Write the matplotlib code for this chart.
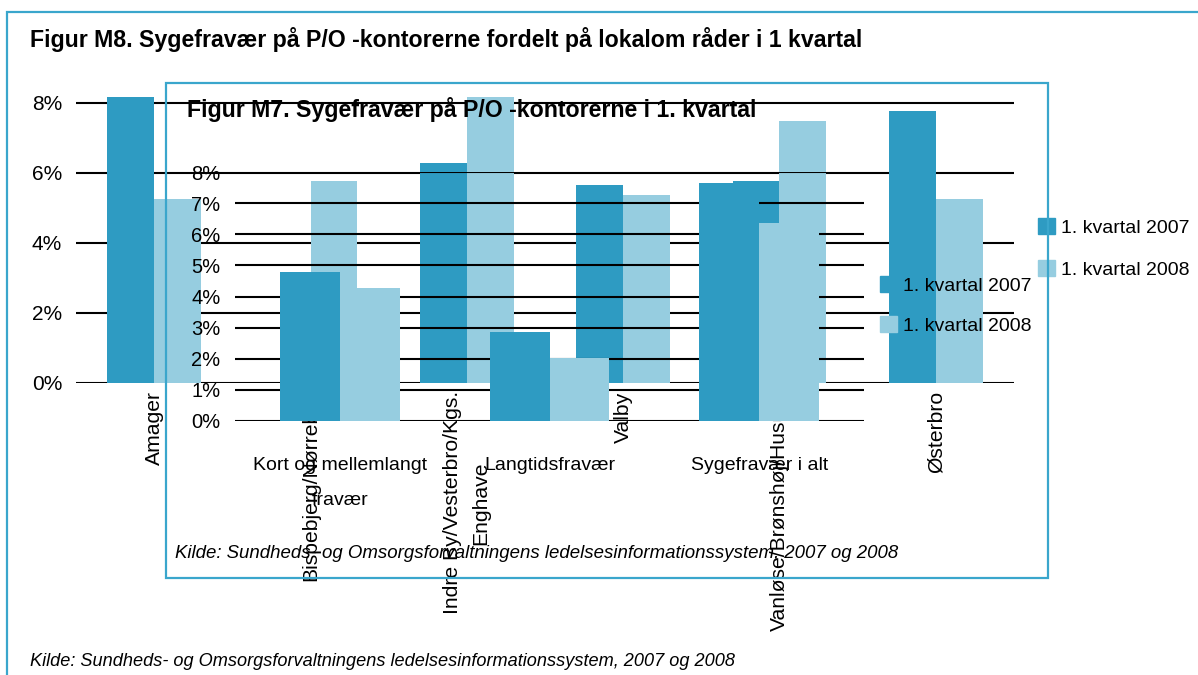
import matplotlib
matplotlib.use("Agg")
import matplotlib.pyplot as plt
import numpy as np
from matplotlib.patches import Rectangle, Patch
from matplotlib.ticker import PercentFormatter

plt.rcParams["font.family"] = ["Liberation Sans", "DejaVu Sans"]

# ---- data: Figur M8 (outer chart, per local area) ----
areas = ["Amager", "Bispebjerg/Nørrebro", "Indre By/Vesterbro/Kgs.\nEnghave",
         "Valby", "Vanløse/Brønshøj/Husum", "Østerbro"]
areas_2007 = [8.18, np.nan, 6.29, 5.66, 5.77, 7.77]
areas_2008 = [5.26, 5.77, 8.17, 5.37, 7.49, 5.26]
outer_ticks = [0, 2, 4, 6, 8]

# ---- data: Figur M7 (inner chart, per absence type) ----
types = ["Kort og mellemlangt\nfravær", "Langtidsfravær", "Sygefravær i alt"]
types_2007 = [4.79, 2.86, 7.65]
types_2008 = [4.28, 2.03, 6.37]
inner_ticks = [0, 1, 2, 3, 4, 5, 6, 7, 8]

series_labels = ["1. kvartal 2007", "1. kvartal 2008"]
outer_title = "Figur M8. Sygefravær på P/O -kontorerne fordelt på lokalom råder i 1 kvartal"
inner_title = "Figur M7. Sygefravær på P/O -kontorerne i 1. kvartal"
source = "Kilde: Sundheds- og Omsorgsforvaltningens ledelsesinformationssystem, 2007 og 2008"

DARK = "#2e9bc2"
LIGHT = "#96cde0"
FRAME = "#3aa6cc"
W, H = 1198, 675


def box(x0, y_top, x1, y_bottom):
    """pixel box (top-left origin) -> figure fraction rect"""
    return [x0 / W, 1 - y_bottom / H, (x1 - x0) / W, (y_bottom - y_top) / H]


def style_axes(ax, ticks, pad_y, pad_x, ysize, xsize):
    for s in ax.spines.values():
        s.set_visible(False)
    ax.set_yticks(ticks)
    ax.yaxis.set_major_formatter(PercentFormatter(decimals=0))
    ax.yaxis.grid(True, color="black", linewidth=1.5)
    ax.set_axisbelow(True)
    ax.tick_params(axis="y", length=0, pad=pad_y, labelsize=ysize)
    ax.tick_params(axis="x", length=0, pad=pad_x, labelsize=xsize)
    ax.patch.set_visible(False)


fig = plt.figure(figsize=(W / 100, H / 100), dpi=100)

# outer chart
ax_o = fig.add_axes(box(76, 92.5, 1014, 383), zorder=1)
x = np.arange(len(areas))
bw = 0.30
ax_o.bar(x - bw / 2, areas_2007, bw, color=DARK, linewidth=0)
ax_o.bar(x + bw / 2, areas_2008, bw, color=LIGHT, linewidth=0)
ax_o.set_xlim(-0.5, len(areas) - 0.5)
ax_o.set_ylim(0, 8.3)
style_axes(ax_o, outer_ticks, 10, 6, 15, 15.2)
ax_o.set_xticks(x)
ax_o.set_xticklabels(areas, rotation=90, linespacing=1.65)

# inner chart (drawn on top, transparent)
ax_i = fig.add_axes(box(235, 172, 864, 421), zorder=2)
xi = np.arange(len(types))
bwi = 0.286
ax_i.bar(xi - bwi / 2, types_2007, bwi, color=DARK, linewidth=0)
ax_i.bar(xi + bwi / 2, types_2008, bwi, color=LIGHT, linewidth=0)
ax_i.set_xlim(-0.5, len(types) - 0.5)
ax_i.set_ylim(0, 8)
style_axes(ax_i, inner_ticks, 10.5, 26, 14.5, 14)
ax_i.set_xticks(xi)
ax_i.set_xticklabels(types, linespacing=2.4)

# legends
handles = [Patch(color=DARK), Patch(color=LIGHT)]
leg_o = fig.legend(handles, series_labels, loc="upper left",
                   bbox_to_anchor=(1030 / W, 1 - 210 / H), frameon=False,
                   fontsize=14, handlelength=0.9, handleheight=0.9,
                   handletextpad=0.3, labelspacing=1.22, borderaxespad=0)
leg_i = fig.legend(handles, series_labels, loc="upper left",
                   bbox_to_anchor=(872 / W, 1 - 268 / H), frameon=False,
                   fontsize=14, handlelength=0.9, handleheight=0.9,
                   handletextpad=0.3, labelspacing=1.12, borderaxespad=0)
leg_o.set_zorder(5)
leg_i.set_zorder(5)

# titles and source notes
fig.text(30 / W, 1 - 40 / H, outer_title, fontsize=16.7, fontweight="bold",
         va="center", ha="left")
fig.text(187 / W, 1 - 110 / H, inner_title, fontsize=16.7, fontweight="bold",
         va="center", ha="left", zorder=5)
fig.text(30 / W, 1 - 662 / H, source, fontsize=13.1, style="italic",
         va="center", ha="left")
fig.text(175 / W, 1 - 553 / H, source, fontsize=13.4, style="italic",
         va="center", ha="left", zorder=5)

# chart frames
fig.add_artist(Rectangle((7 / W, -0.05), 1.1, 1 - 12 / H + 0.05, fill=False,
                         edgecolor=FRAME, linewidth=1.6, zorder=6))
inner_box = box(166, 83, 1048, 578)
fig.add_artist(Rectangle(inner_box[:2], inner_box[2], inner_box[3],
                         fill=False, edgecolor=FRAME, linewidth=1.6, zorder=6))

fig.savefig("out.png", dpi=100)
